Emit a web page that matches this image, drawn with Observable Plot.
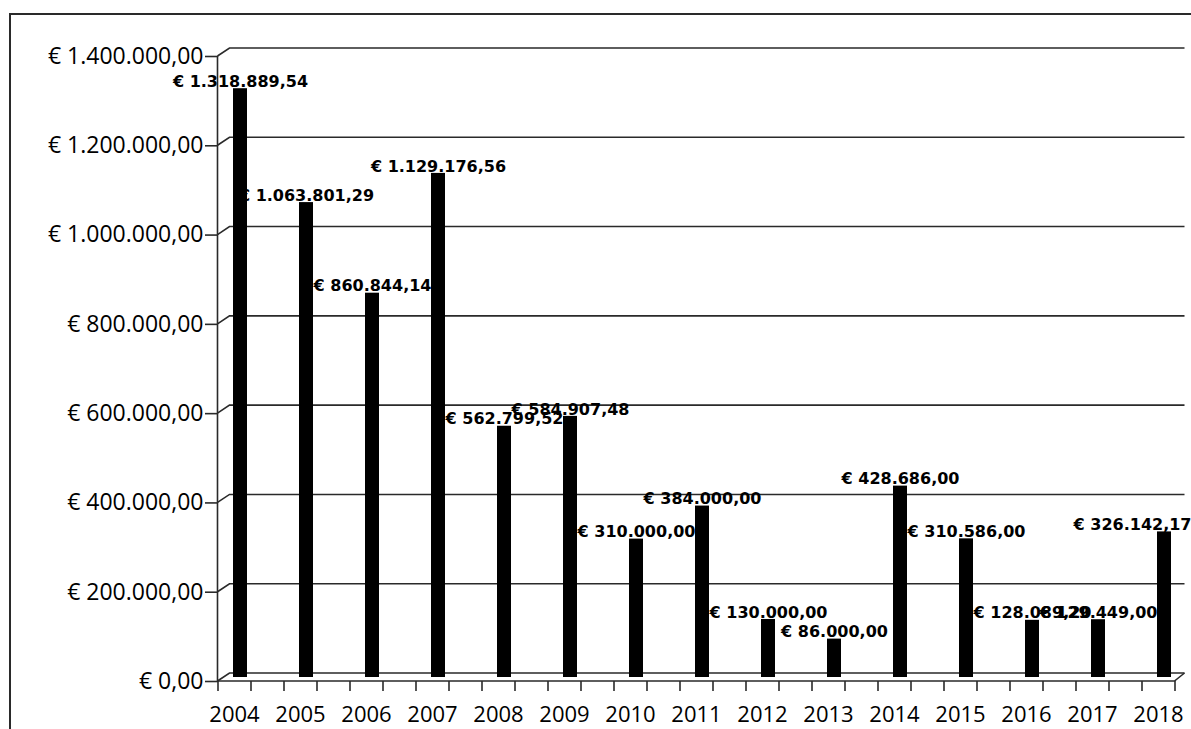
<!DOCTYPE html>
<html>
<head>
<meta charset="utf-8">
<script src="https://cdn.jsdelivr.net/npm/d3@7"></script>
<script src="https://cdn.jsdelivr.net/npm/@observablehq/plot@0.6"></script>
<style>
  html, body { margin: 0; padding: 0; background: #fff; }
  #wrap { position: relative; width: 1191px; height: 729px; overflow: hidden; }
  #border { position: absolute; left: 9px; top: 13px; right: -10px; bottom: -10px;
            border-top: 2px solid #2a2a2a; border-left: 2px solid #2a2a2a; pointer-events: none; }
</style>
</head>
<body>
<div id="wrap"><div id="border"></div></div>
<script>
// ---- data ----
const years = ["2004","2005","2006","2007","2008","2009","2010","2011","2012","2013","2014","2015","2016","2017","2018"];
const amounts = [1318889.54, 1063801.29, 860844.14, 1129176.56, 562799.52, 584907.48, 310000.00, 384000.00, 130000.00, 86000.00, 428686.00, 310586.00, 128089.20, 129449.00, 326142.17];
const yTicks = [0, 200000, 400000, 600000, 800000, 1000000, 1200000, 1400000];

const data = years.map((year, i) => ({year, value: amounts[i]}));
const lastYear = years[years.length - 1];

const nl = d3.formatLocale({decimal: ",", thousands: ".", grouping: [3], currency: ["€ ", ""]});
const euro = nl.format("$,.2f");

const lineColor = "#2a2a2a";

// 3D back wall / floor lines drawn from the scales
function walls(index, scales, values, dimensions) {
  const x = scales.x, y = scales.y;
  const bw = x.bandwidth();
  const half = 16.5;
  const ax = x(years[0]) + bw / 2 - half;                 // front-left corner
  const fe = x(lastYear) + bw / 2 + half;                  // front-right corner
  const depthX = 12, depthY = 8;
  const g = d3.create("svg:g")
    .attr("fill", "none")
    .attr("stroke", lineColor)
    .attr("stroke-width", 1.6);
  for (const v of yTicks) {
    const yy = y(v);
    g.append("path").attr("d",
      `M${ax},${yy}L${ax + depthX},${yy - depthY}L${fe + 10},${yy - depthY}`);
  }
  const y0 = y(0);
  g.append("path").attr("d", `M${ax},${y0}L${fe},${y0}L${fe + 10},${y0 - depthY}`);
  g.append("path").attr("d", `M${ax},${y(yTicks[yTicks.length - 1])}L${ax},${y0}`);
  return g.node();
}

const labelStyle = {fontFamily: "'DejaVu Sans', sans-serif", fontWeight: "bold", fontSize: 16,
                    fill: "black", lineAnchor: "middle"};

const chart = Plot.plot({
  width: 1191,
  height: 729,
  marginLeft: 218,
  marginRight: 0,
  marginTop: 56,
  marginBottom: 48,
  style: {fontFamily: "'Open Sans', Lato, sans-serif", fontSize: "22px", color: "black", background: "white"},
  x: {type: "band", domain: years, padding: 0, insetLeft: -17},
  y: {domain: [0, 1400000]},
  marks: [
    walls,
    Plot.axisY({ticks: yTicks, tickSize: 13, tickPadding: 2, tickFormat: euro,
                stroke: lineColor, strokeWidth: 1.6, fontSize: 23, label: null}),
    Plot.axisX({tickSize: 10, dx: -16.5, tickFormat: () => "", stroke: lineColor, strokeWidth: 1.6, label: null}),
    Plot.axisX({tickSize: 10, dx: 16.5, tickFormat: () => "", stroke: lineColor, strokeWidth: 1.6, label: null}),
    Plot.axisX({tickSize: 0, tickPadding: 25, fontSize: 22, label: null}),
    // data labels centred over their columns
    Plot.text(data.filter(d => d.year !== lastYear),
              {x: "year", y: "value", text: d => euro(d.value), dx: 6, dy: -11, ...labelStyle}),
    // last label pushed inside the chart's right edge, as in the original
    Plot.text(data.filter(d => d.year === lastYear),
              {y: "value", text: d => euro(d.value), frameAnchor: "right", textAnchor: "end",
               dy: -11, ...labelStyle}),
    Plot.rectY(data, {x: "year", y: "value", fill: "black", insetLeft: 32, insetRight: 20, dy: -4})
  ]
});

document.getElementById("wrap").prepend(chart);
</script>
</body>
</html>
